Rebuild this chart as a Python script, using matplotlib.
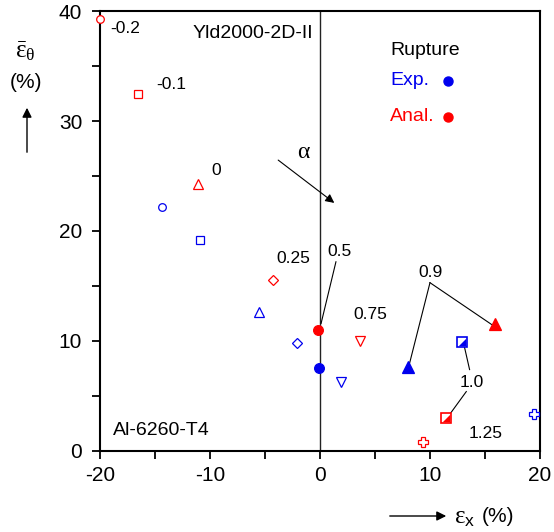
import matplotlib.pyplot as plt
from matplotlib.ticker import MultipleLocator

plt.rcParams["font.family"] = ["Liberation Sans", "DejaVu Sans"]
plt.rcParams["axes.unicode_minus"] = False
plt.rcParams["mathtext.fontset"] = "custom"
plt.rcParams["mathtext.rm"] = "Liberation Serif"
plt.rcParams["mathtext.it"] = "Liberation Serif"
plt.rcParams["mathtext.sf"] = "Liberation Sans"

# -----------------------------
# DATA (strain at rupture, %)
# -----------------------------
alpha_labels = ["-0.2", "-0.1", "0", "0.25", "0.5", "0.75", "0.9", "1.0", "1.25"]
markers = ["o", "s", "^", "D", "o", "v", "^", "half", "P"]
filled = [False, False, False, False, True, False, True, "half", False]

anal_x = [-20.0, -16.5, -11.1, -4.3, -0.2, 3.6, 15.9, 11.5, 9.4]
anal_y = [39.3, 32.5, 24.3, 15.5, 11.0, 10.0, 11.5, 3.0, 0.8]

exp_x = [-14.4, -10.9, -5.5, -2.1, -0.1, 1.9, 8.0, 12.9, 19.5]
exp_y = [22.2, 19.2, 12.6, 9.8, 7.5, 6.3, 7.6, 9.9, 3.4]

# label anchor (left edge, centre) for each alpha value
label_x = [-19.1, -14.9, -9.9, -4.0, 0.7, 3.0, 8.9, 12.7, 13.5]
label_y = [38.4, 33.3, 25.5, 17.5, 18.1, 12.4, 16.2, 6.2, 1.6]

RED = "#ff0000"
BLUE = "#0000ee"
HALF_TRI = [(-1, -1), (1, -1), (1, 1), (-1, -1)]

fig = plt.figure(figsize=(5.54, 5.32), dpi=100)
ax = fig.add_axes([0.1805, 0.1523, 0.7942, 0.8270])


def draw(xs, ys, color):
    for x, y, m, f in zip(xs, ys, markers, filled):
        if f == "half":
            ax.plot(x, y, marker="s", ms=6.5, mfc="white", mec=color, mew=1.2,
                    ls="none", clip_on=False, zorder=4)
            ax.plot(x, y, marker=HALF_TRI, ms=5.5, mfc=color, mec=color,
                    mew=0, ls="none", clip_on=False, zorder=5)
        else:
            size = {"o": 5.5, "s": 6, "^": 6.5, "D": 5, "v": 6.5, "P": 7}[m]
            if f:
                size += 1.5
            ax.plot(x, y, marker=m, ms=size, mfc=color if f else "white",
                    mec=color, mew=0.9, ls="none", clip_on=False, zorder=4)


draw(anal_x, anal_y, RED)
draw(exp_x, exp_y, BLUE)

# vertical line at x = 0
ax.axvline(0, color="#222222", lw=1)

# alpha labels
for lx, ly, txt in zip(label_x, label_y, alpha_labels):
    ax.text(lx, ly, txt, fontsize=12.5, va="center")

# leader lines
ax.plot([1.45, 0.1], [17.2, 11.6], color="black", lw=0.8)
ax.plot([10.0, 8.1], [15.3, 7.8], color="black", lw=0.8)
ax.plot([10.0, 15.6], [15.3, 11.5], color="black", lw=0.8)
ax.plot([13.6, 13.1], [7.4, 9.6], color="black", lw=0.8)
ax.plot([13.3, 11.7], [5.4, 3.2], color="black", lw=0.8)

# alpha arrow
ax.annotate("", xy=(1.5, 22.4), xytext=(-4.0, 26.6),
            arrowprops=dict(arrowstyle="-|>", color="black", lw=0.8,
                            mutation_scale=13))
ax.text(-1.5, 27.1, "α", fontsize=17, ha="center", va="center",
        family="Liberation Serif")

# titles and legend text
ax.text(-11.55, 38.0, "Yld2000-2D-II", fontsize=14, va="center")
ax.text(-18.8, 1.9, "Al-6260-T4", fontsize=14, va="center")
ax.text(6.36, 36.45, "Rupture", fontsize=14, va="center")
ax.text(6.36, 33.7, "Exp.", fontsize=14, va="center", color=BLUE)
ax.text(6.36, 30.4, "Anal.", fontsize=14, va="center", color=RED)
ax.plot(11.6, 33.6, "o", color=BLUE, ms=6.5)
ax.plot(11.6, 30.4, "o", color=RED, ms=6.5)

# axes styling
ax.set_xlim(-20, 20)
ax.set_ylim(0, 40)
ax.xaxis.set_major_locator(MultipleLocator(10))
ax.xaxis.set_minor_locator(MultipleLocator(5))
ax.yaxis.set_major_locator(MultipleLocator(10))
ax.yaxis.set_minor_locator(MultipleLocator(5))
ax.tick_params(which="both", direction="out", length=5.8, width=1.3,
               labelsize=15, top=False, right=False)
ax.tick_params(axis="x", pad=5)
ax.tick_params(axis="y", pad=7)
for s in ax.spines.values():
    s.set_linewidth(1.5)

# axis labels with arrows
W, H = 554, 532
fig.text(25 / W, 1 - 51 / H, r"$\bar{ε}_{θ}$", fontsize=18,
         ha="center", va="center")
fig.text(26 / W, 1 - 83 / H, "(%)", fontsize=15, ha="center", va="center")
ax.annotate("", xy=(27 / W, 1 - 105 / H), xytext=(27 / W, 1 - 155 / H),
            xycoords="figure fraction", textcoords="figure fraction",
            arrowprops=dict(arrowstyle="-|>", color="black", lw=1,
                            mutation_scale=14))
ax.annotate("", xy=(449 / W, 1 - 516 / H), xytext=(387 / W, 1 - 516 / H),
            xycoords="figure fraction", textcoords="figure fraction",
            arrowprops=dict(arrowstyle="-|>", color="black", lw=1,
                            mutation_scale=14))
fig.text(454 / W, 1 - 517 / H, r"$ε_{\mathsf{x}}$", fontsize=18,
         ha="left", va="center")
fig.text(482 / W, 1 - 516 / H, "(%)", fontsize=15, ha="left", va="center")

fig.savefig("out.png", dpi=100)
